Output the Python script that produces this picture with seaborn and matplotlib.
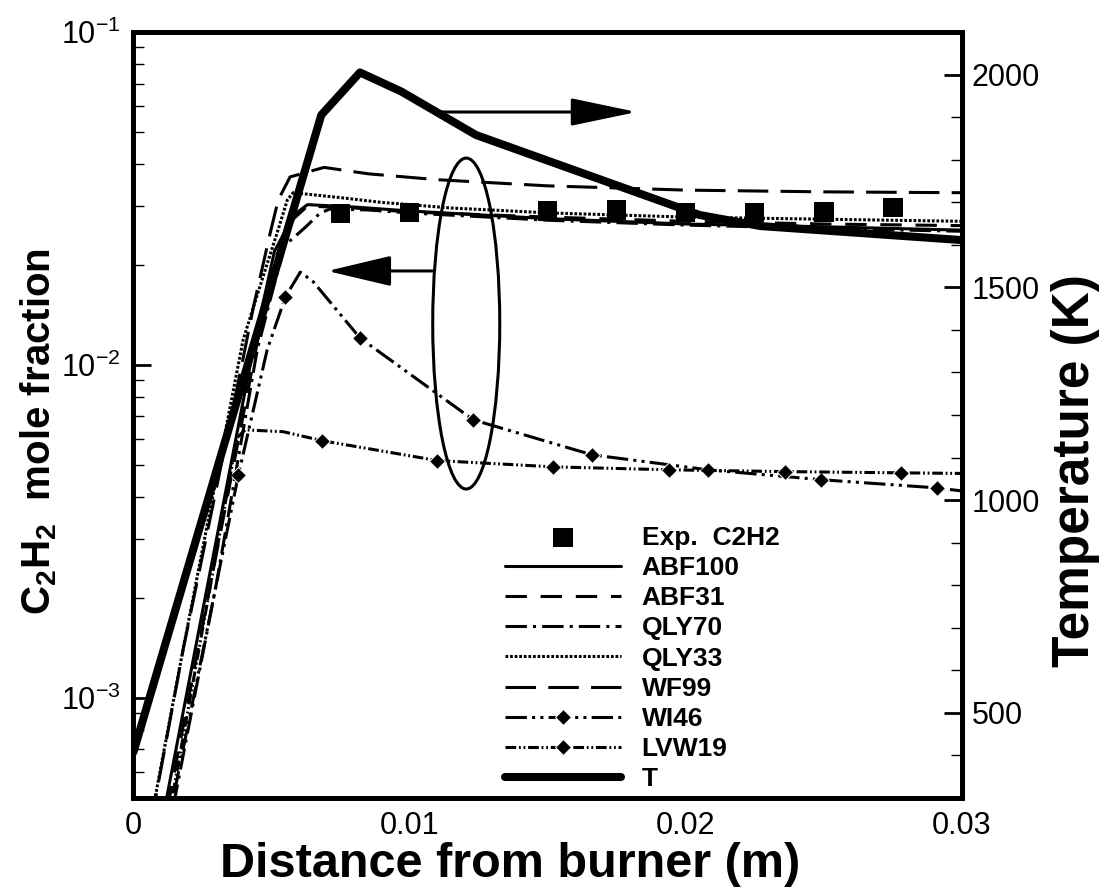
import numpy as np
import pandas as pd
import matplotlib
matplotlib.use("Agg")
import matplotlib.pyplot as plt
import seaborn as sns
from matplotlib.patches import Ellipse
from matplotlib.ticker import FixedLocator, MultipleLocator, NullFormatter, LogLocator

# ---------------- data ----------------
exp_x = [0.0075, 0.010, 0.015, 0.0175, 0.020, 0.0225, 0.025, 0.0275]
exp_y = [0.0285, 0.0287, 0.0290, 0.0292, 0.0287, 0.0287, 0.0288, 0.0297]

abf100_x = [0.0009, 0.0012, 0.0025, 0.0044, 0.0051, 0.0058, 0.0063, 0.0080, 0.0100, 0.0150, 0.0200, 0.0250, 0.0300]
abf100_y = [3.7e-4, 5.0e-4, 1.82e-3, 0.0119, 0.0219, 0.0282, 0.0303, 0.0298, 0.0290, 0.0275, 0.0265, 0.0260, 0.0254]

abf31_x = [0.0010, 0.0013, 0.0026, 0.0045, 0.0052, 0.0058, 0.0063, 0.0080, 0.0100, 0.0150, 0.0200, 0.0250, 0.0300]
abf31_y = [3.7e-4, 5.0e-4, 1.82e-3, 0.0119, 0.0215, 0.0275, 0.0300, 0.0296, 0.0288, 0.0278, 0.0270, 0.0265, 0.0262]

qly70_x = [0.0012, 0.0015, 0.0030, 0.00448, 0.0051, 0.00549, 0.00622, 0.00676, 0.00712, 0.0085, 0.0100, 0.0150, 0.0200, 0.0250, 0.0300]
qly70_y = [3.7e-4, 5.0e-4, 2.2e-3, 0.0111, 0.0175, 0.0229, 0.0259, 0.0286, 0.0294, 0.0292, 0.0286, 0.0272, 0.0263, 0.0257, 0.0252]

qly33_x = [0.0006, 0.00078, 0.00179, 0.00397, 0.00469, 0.0052, 0.00557, 0.00578, 0.0075, 0.00894, 0.0115, 0.0151, 0.0200, 0.0224, 0.0300]
qly33_y = [4.2e-4, 5.0e-4, 1.39e-3, 0.0119, 0.0184, 0.0249, 0.0313, 0.0329, 0.0318, 0.0308, 0.0296, 0.0286, 0.0278, 0.0276, 0.0270]

wf99_x = [0.0006, 0.0008, 0.0018, 0.0039, 0.00434, 0.00495, 0.00524, 0.00567, 0.0069, 0.0085, 0.0110, 0.0150, 0.0200, 0.0250, 0.0300]
wf99_y = [4.2e-4, 5.0e-4, 1.4e-3, 0.0098, 0.0149, 0.0249, 0.0313, 0.0367, 0.0392, 0.0375, 0.0360, 0.0345, 0.0335, 0.0331, 0.0329]

wi46_x = [0.0011, 0.00144, 0.0038, 0.00484, 0.0055, 0.00604, 0.0065, 0.0082, 0.0123, 0.0166, 0.0208, 0.0249, 0.0291, 0.0300]
wi46_y = [3.9e-4, 5.0e-4, 4.68e-3, 0.0111, 0.0160, 0.0190, 0.0178, 0.01205, 0.00684, 0.00537, 0.00484, 0.00452, 0.00427, 0.00418]
wi46_marks = [2, 4, 7, 8, 9, 10, 11, 12]

lvw19_x = [0.0011, 0.0014, 0.00375, 0.00404, 0.00542, 0.00683, 0.0110, 0.0152, 0.0194, 0.0236, 0.0278, 0.0300]
lvw19_y = [3.8e-4, 5.0e-4, 6.04e-3, 6.38e-3, 6.30e-3, 5.92e-3, 5.16e-3, 4.94e-3, 4.84e-3, 4.78e-3, 4.74e-3, 4.72e-3]
lvw19_marks = [5, 6, 7, 8, 9, 10]

t_x = [0.0, 0.0068, 0.0082, 0.0097, 0.0124, 0.0205, 0.0227, 0.0300]
t_y = [408, 1905, 2005, 1960, 1858, 1670, 1644, 1611]

labels = ["Exp.  C2H2", "ABF100", "ABF31", "QLY70", "QLY33", "WF99", "WI46", "LVW19", "T"]
x_ticks = [0.0, 0.01, 0.02, 0.03]
x_ticklabels = ["0", "0.01", "0.02", "0.03"]
t_ticks = [500, 1000, 1500, 2000]

# ---------------- style ----------------
sns.set_theme(style="white")
plt.rcParams['font.family'] = ['Liberation Sans', 'DejaVu Sans']
plt.rcParams['mathtext.fontset'] = 'custom'
plt.rcParams['mathtext.rm'] = 'Liberation Sans'
plt.rcParams['mathtext.it'] = 'Liberation Sans:italic'
plt.rcParams['mathtext.bf'] = 'Liberation Sans:bold'
plt.rcParams['axes.edgecolor'] = 'black'
plt.rcParams['text.color'] = 'black'
plt.rcParams['axes.labelcolor'] = 'black'
plt.rcParams['xtick.color'] = 'black'
plt.rcParams['ytick.color'] = 'black'

fig = plt.figure(figsize=(10.99, 8.92), dpi=100)
ax = fig.add_axes([0.12147, 0.10538, 0.7539, 0.85874])
ax2 = ax.twinx()
ax.set_zorder(2)
ax2.set_zorder(1)
ax.patch.set_visible(False)

LW = 2.2
series = [
    (abf100_x, abf100_y, dict(linestyle='-')),
    (abf31_x, abf31_y, dict(linestyle=(0, (7, 4.5)))),
    (qly70_x, qly70_y, dict(linestyle=(0, (7, 2, 1, 2)))),
    (qly33_x, qly33_y, dict(linestyle=(0, (0.9, 0.6)))),
    (wf99_x, wf99_y, dict(linestyle=(0, (10, 4)))),
    (wi46_x, wi46_y, dict(linestyle=(0, (7, 1.7, 1, 1.7, 1, 1.7)), marker='D', markersize=8, markevery=wi46_marks)),
    (lvw19_x, lvw19_y, dict(linestyle=(0, (3.5, 0.9, 0.6, 0.9, 0.6, 0.9)), marker='D', markersize=8, markevery=lvw19_marks)),
]
for xs, ys, kw in series:
    sns.lineplot(x=xs, y=ys, ax=ax, color='black', linewidth=LW, sort=False,
                 estimator=None, legend=False, **kw)

sns.scatterplot(x=exp_x, y=exp_y, ax=ax, marker='s', s=190, color='black',
                edgecolor='none', legend=False, zorder=5)

sns.lineplot(x=t_x, y=t_y, ax=ax2, color='black', linewidth=5.8, sort=False,
             estimator=None, legend=False)

# axes scales/limits
ax.set_yscale('log')
ax.set_xlim(0, 0.03)
ax.set_ylim(5e-4, 0.1)
ax2.set_ylim(300, 2100)

ax.xaxis.set_major_locator(FixedLocator(x_ticks))
ax.set_xticklabels(x_ticklabels)
ax.xaxis.set_minor_locator(MultipleLocator(0.002))
ax.yaxis.set_major_locator(LogLocator(base=10))
ax.yaxis.set_minor_locator(LogLocator(base=10, subs=np.arange(2, 10)))
ax.yaxis.set_minor_formatter(NullFormatter())
ax2.yaxis.set_major_locator(FixedLocator(t_ticks))
ax2.yaxis.set_minor_locator(MultipleLocator(100))

ax.tick_params(axis='both', which='major', direction='in', length=13, width=2,
               labelsize=22, colors='black', top=False, right=False, pad=9)
ax.tick_params(axis='both', which='minor', direction='in', length=8, width=1,
               colors='black', top=False, right=False)
ax2.tick_params(axis='y', which='major', direction='in', length=13, width=2,
                labelsize=22, colors='black', pad=7)
ax2.tick_params(axis='y', which='minor', direction='in', length=8, width=1, colors='black')
ax.grid(False)
ax2.grid(False)
for a in (ax, ax2):
    for sp in a.spines.values():
        sp.set_linewidth(3.5)
        sp.set_color('black')
        sp.set_visible(True)

ax.set_xlabel("Distance from burner (m)", fontsize=35, fontweight='bold', labelpad=1, color='black')
ax.xaxis.label.set_x(0.455)
ax.set_ylabel(r"$\mathbf{C_2H_2}$  mole fraction", fontsize=29, fontweight='bold', labelpad=2, color='black')
ax.yaxis.label.set_y(0.478)
ax2.set_ylabel("Temperature (K)", fontsize=37, fontweight='bold', labelpad=8, color='black')
ax2.yaxis.label.set_y(0.428)

# annotations: ellipse and arrows
ell = Ellipse((0.4016, 0.6194), 0.0809, 0.432, transform=ax.transAxes,
              fill=False, edgecolor='black', linewidth=2.2, zorder=6)
ax.add_patch(ell)
ax.annotate("", xy=(0.00702, 0.01915), xytext=(0.01082, 0.01915),
            arrowprops=dict(arrowstyle="-|>,head_length=4.0,head_width=0.95",
                            mutation_scale=10, lw=2.2, color='black',
                            shrinkA=0, shrinkB=0), zorder=6)
ax.annotate("", xy=(0.01822, 0.0575), xytext=(0.01112, 0.0575),
            arrowprops=dict(arrowstyle="-|>,head_length=4.1,head_width=0.86",
                            mutation_scale=10, lw=2.2, color='black',
                            shrinkA=0, shrinkB=0), zorder=6)

# legend
handles = [ax.collections[0]] + list(ax.lines[:7]) + [ax2.lines[0]]
leg = ax.legend(handles, labels, loc='upper left', bbox_to_anchor=(0.4595, 0.4105),
                bbox_transform=fig.transFigure, frameon=False, borderpad=0,
                borderaxespad=0, numpoints=1, scatterpoints=1, handlelength=4.4,
                handletextpad=0.78, labelspacing=0.235,
                prop={'weight': 'bold', 'size': 19})
for t in leg.get_texts():
    t.set_color('black')

fig.savefig("out.png", dpi=100)
